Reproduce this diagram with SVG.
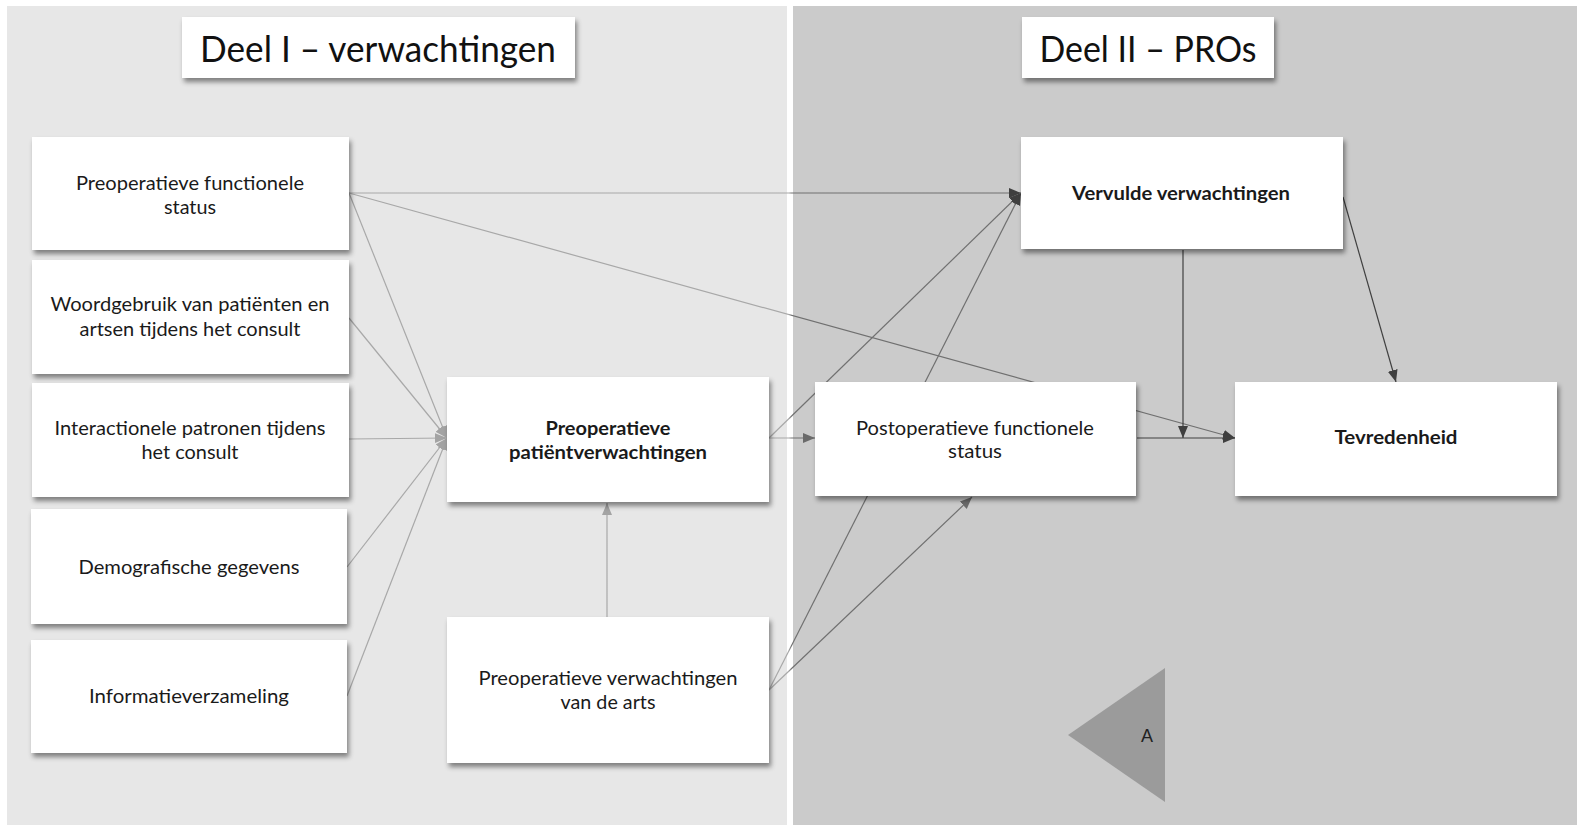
<svg xmlns="http://www.w3.org/2000/svg" width="1577" height="825" viewBox="0 0 1577 825">
<defs>
<style>
.box{fill:#ffffff;filter:url(#sh)}
.t{font-family:Lato,"Open Sans","Liberation Sans",sans-serif;font-size:19px;fill:#1a1a1a;text-anchor:middle}
.b{font-weight:bold}
.title{font-family:Lato,"Open Sans","Liberation Sans",sans-serif;font-size:37px;fill:#111;text-anchor:middle}
.e{fill:none;stroke:url(#eg);stroke-width:1.2}
.d{fill:none;stroke:#404040;stroke-width:1.2}
</style>
<filter id="sh" x="-10%" y="-10%" width="125%" height="135%">
<feDropShadow dx="2" dy="4" stdDeviation="2.5" flood-color="#000" flood-opacity="0.45"/>
</filter>
<linearGradient id="eg" gradientUnits="userSpaceOnUse" x1="0" y1="0" x2="1577" y2="0">
<stop offset="0" stop-color="#a8a8a8"/>
<stop offset="0.5" stop-color="#a8a8a8"/>
<stop offset="0.502" stop-color="#707070"/>
<stop offset="1" stop-color="#707070"/>
</linearGradient>
<marker id="mL" markerUnits="userSpaceOnUse" markerWidth="13" markerHeight="11" refX="12" refY="5" orient="auto"><path d="M0,0 L12,5 L0,10 z" fill="#a3a3a3"/></marker>
<marker id="mM" markerUnits="userSpaceOnUse" markerWidth="13" markerHeight="11" refX="12" refY="5" orient="auto"><path d="M0,0 L12,5 L0,10 z" fill="#6a6a6a"/></marker>
<marker id="mD" markerUnits="userSpaceOnUse" markerWidth="13" markerHeight="11" refX="12" refY="5" orient="auto"><path d="M0,0 L12,5 L0,10 z" fill="#3f3f3f"/></marker>
</defs>
<rect x="0" y="0" width="1577" height="825" fill="#ffffff"/>
<rect x="7" y="6" width="780" height="819" fill="#e7e7e7"/>
<rect x="793" y="6" width="784" height="819" fill="#cbcbcb"/>
<polygon points="1068,735 1165,668 1165,802" fill="#9b9b9b"/>
<text x="1147" y="742" style="font-family:'Liberation Sans',Arial,sans-serif;font-size:18px;fill:#222;text-anchor:middle">A</text>
<g id="title1"><rect class="box" x="182" y="17" width="393" height="61"/><text class="title" x="378" y="62" textLength="356" lengthAdjust="spacingAndGlyphs">Deel I – verwachtingen</text></g>
<g id="title2"><rect class="box" x="1022" y="17" width="252" height="61"/><text class="title" x="1148" y="62" textLength="217" lengthAdjust="spacingAndGlyphs">Deel II – PROs</text></g>
<g id="connectors">
<line class="e" x1="349" y1="193" x2="1021" y2="193" marker-end="url(#mD)"/>
<line class="e" x1="349" y1="193" x2="1235" y2="438" marker-end="url(#mD)"/>
<line class="e" x1="349" y1="193" x2="447" y2="438" marker-end="url(#mL)"/>
<line class="e" x1="349" y1="318" x2="447" y2="438" marker-end="url(#mL)"/>
<line class="e" x1="349" y1="439" x2="447" y2="438" marker-end="url(#mL)"/>
<line class="e" x1="347" y1="567" x2="447" y2="438" marker-end="url(#mL)"/>
<line class="e" x1="347" y1="696" x2="447" y2="438" marker-end="url(#mL)"/>
<line class="e" x1="607" y1="617" x2="607" y2="503" marker-end="url(#mL)"/>
<line class="e" x1="769" y1="438" x2="815" y2="438" marker-end="url(#mM)"/>
<line class="e" x1="769" y1="438" x2="1021" y2="193" marker-end="url(#mD)"/>
<line class="e" x1="769" y1="690" x2="1021" y2="193" marker-end="url(#mD)"/>
<line class="e" x1="769" y1="690" x2="972" y2="497" marker-end="url(#mM)"/>
<line class="d" x1="1137" y1="438" x2="1235" y2="438" marker-end="url(#mD)"/>
<line class="d" x1="1183" y1="250" x2="1183" y2="438" marker-end="url(#mD)"/>
<line class="d" x1="1343" y1="197" x2="1396" y2="382" marker-end="url(#mD)"/>
</g>
<g id="n1"><rect class="box" x="32" y="137" width="317" height="113"/><text class="t" x="190" y="190" textLength="228" lengthAdjust="spacingAndGlyphs">Preoperatieve functionele</text><text class="t" x="190" y="214" textLength="52" lengthAdjust="spacingAndGlyphs">status</text></g>
<g id="n2"><rect class="box" x="32" y="260" width="317" height="114"/><text class="t" x="190" y="311" textLength="279" lengthAdjust="spacingAndGlyphs">Woordgebruik van patiënten en</text><text class="t" x="190" y="336" textLength="221" lengthAdjust="spacingAndGlyphs">artsen tijdens het consult</text></g>
<g id="n3"><rect class="box" x="32" y="383" width="317" height="114"/><text class="t" x="190" y="435" textLength="271" lengthAdjust="spacingAndGlyphs">Interactionele patronen tijdens</text><text class="t" x="190" y="459" textLength="97" lengthAdjust="spacingAndGlyphs">het consult</text></g>
<g id="n4"><rect class="box" x="31" y="509" width="316" height="115"/><text class="t" x="189" y="574" textLength="221" lengthAdjust="spacingAndGlyphs">Demografische gegevens</text></g>
<g id="n5"><rect class="box" x="31" y="640" width="316" height="113"/><text class="t" x="189" y="703" textLength="200" lengthAdjust="spacingAndGlyphs">Informatieverzameling</text></g>
<g id="n6"><rect class="box" x="447" y="377" width="322" height="125"/><text class="t b" x="608" y="435" textLength="125" lengthAdjust="spacingAndGlyphs">Preoperatieve</text><text class="t b" x="608" y="459" textLength="198" lengthAdjust="spacingAndGlyphs">patiëntverwachtingen</text></g>
<g id="n7"><rect class="box" x="447" y="617" width="322" height="146"/><text class="t" x="608" y="685" textLength="259" lengthAdjust="spacingAndGlyphs">Preoperatieve verwachtingen</text><text class="t" x="608" y="709" textLength="95" lengthAdjust="spacingAndGlyphs">van de arts</text></g>
<g id="n8"><rect class="box" x="1021" y="137" width="322" height="112"/><text class="t b" x="1181" y="200" textLength="218" lengthAdjust="spacingAndGlyphs">Vervulde verwachtingen</text></g>
<g id="n9"><rect class="box" x="815" y="382" width="321" height="114"/><text class="t" x="975" y="435" textLength="238" lengthAdjust="spacingAndGlyphs">Postoperatieve functionele</text><text class="t" x="975" y="458" textLength="54" lengthAdjust="spacingAndGlyphs">status</text></g>
<g id="n10"><rect class="box" x="1235" y="382" width="322" height="114"/><text class="t b" x="1396" y="444" textLength="123" lengthAdjust="spacingAndGlyphs">Tevredenheid</text></g>
</svg>
